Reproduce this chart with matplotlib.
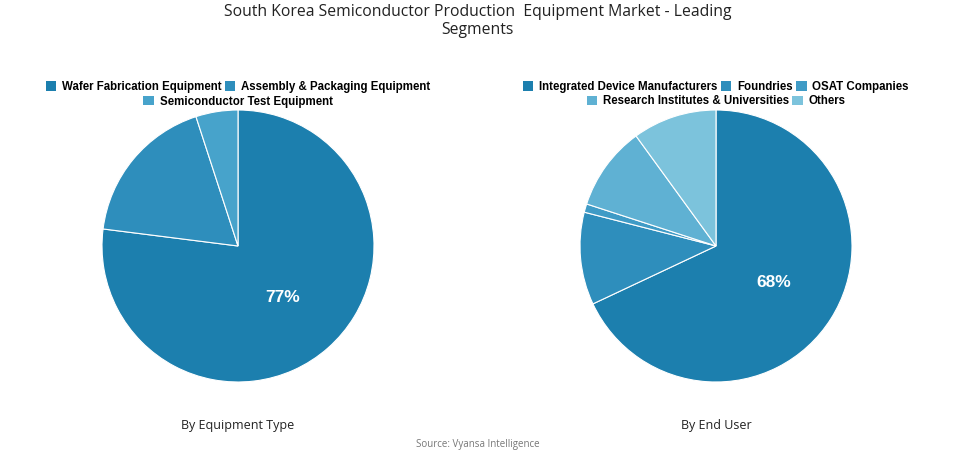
import matplotlib.pyplot as plt
from matplotlib.patches import Patch

# Datos
equip_labels = ['Wafer Fabrication Equipment', 'Assembly & Packaging Equipment',
                'Semiconductor Test Equipment']
equip_values = [77, 18, 5]
equip_colors = ['#1c7fae', '#2e8ebc', '#47a3cb']

user_labels = ['Integrated Device Manufacturers', 'Foundries', 'OSAT Companies',
               'Research Institutes & Universities', 'Others']
user_values = [68, 11, 1, 10, 10]
user_colors = ['#1c7fae', '#2e8ebc', '#3f9bc6', '#5fb1d3', '#7cc3dc']

W, H = 955, 454
fig = plt.figure(figsize=(W / 100, H / 100), dpi=100)

legend_font = {'family': 'Liberation Sans', 'weight': 'bold', 'size': 8.3}


def dibujar_pie(cx, cy, r, valores, colores, etiquetas, filas, subtitulo):
    ax = fig.add_axes([(cx - r) / W, (H - cy - r) / H, 2 * r / W, 2 * r / H])
    wedges, texts, autotexts = ax.pie(
        valores, colors=colores, startangle=90, counterclock=False,
        autopct=lambda p: f'{p:.0f}%' if p > 50 else '', pctdistance=0.5,
        wedgeprops={'edgecolor': 'white', 'linewidth': 0.8},
        textprops={'color': 'white', 'fontsize': 12.5, 'fontweight': 'bold',
                   'family': 'Liberation Sans'})
    ax.set_xlim(-1, 1)
    ax.set_ylim(-1, 1)
    ax.set_aspect('equal')
    ax.axis('off')

    # leyenda en filas centradas
    y0 = 87
    idx = 0
    for n in filas:
        handles = [Patch(facecolor=colores[i], label=etiquetas[i]) for i in range(idx, idx + n)]
        fig.legend(handles=handles, loc='center', bbox_to_anchor=(cx / W, 1 - y0 / H),
                   ncol=n, frameon=False, prop=legend_font, handlelength=0.9,
                   handleheight=0.9, handletextpad=0.5, columnspacing=0.3,
                   borderpad=0, borderaxespad=0)
        y0 += 14.5
        idx += n

    fig.text(cx / W, 1 - 425 / H, subtitulo, ha='center', va='center',
             fontsize=9, family='Open Sans', color='#222222')


dibujar_pie(238, 246, 136, equip_values, equip_colors, equip_labels, [2, 1], 'By Equipment Type')
dibujar_pie(716, 246, 136, user_values, user_colors, user_labels, [3, 2], 'By End User')

fig.text(0.5, 1 - 21 / H, 'South Korea Semiconductor Production  Equipment Market - Leading\nSegments',
         ha='center', va='center', fontsize=11.3, family='Open Sans', color='#222222',
         linespacing=1.25)
fig.text(0.5, 1 - 444 / H, 'Source: Vyansa Intelligence', ha='center', va='center',
         fontsize=7, family='Open Sans', color='#777777')

fig.savefig('out.png', dpi=100)
